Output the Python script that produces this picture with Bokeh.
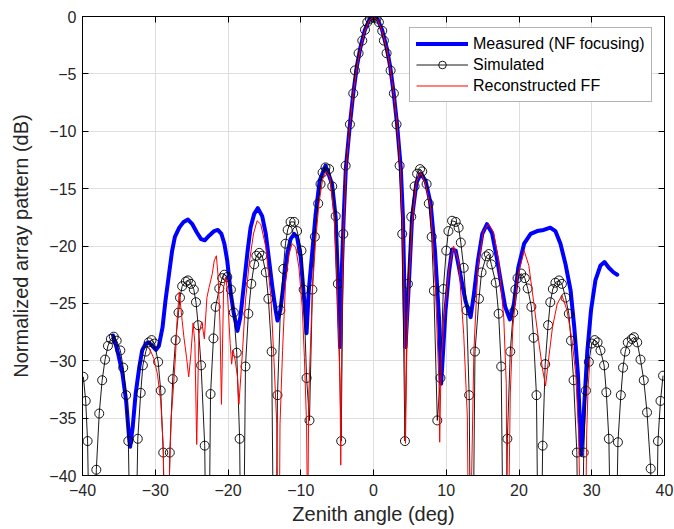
from bokeh.plotting import figure
from bokeh.models import Range1d, LinearAxis, Legend, LegendItem, FixedTicker, CustomJSTickFormatter
from bokeh.embed import file_html
from bokeh.resources import INLINE

# ---------------- data ----------------
x_ticks = [-40, -30, -20, -10, 0, 10, 20, 30, 40]
y_ticks = [-40, -35, -30, -25, -20, -15, -10, -5, 0]

# Simulated pattern (samples; samples at nulls fall far below the axis)
sim_x = [-39.88, -39.56, -39.3, -38.7, -38.1, -37.7, -37.3, -36.9, -36.5, -36.1, -35.7, -35.3, -34.8, -34.4,
         -34.0, -33.7, -33.05, -32.4, -32.0, -31.7, -31.3, -30.9, -30.5, -30.1, -29.6, -29.25, -28.9, -28.45,
         -28.0, -27.6, -27.2, -26.8, -26.6, -26.3, -25.8, -25.5, -25.1, -24.7, -24.4, -24.1, -23.7, -23.2,
         -22.8, -22.4, -22.0, -21.7, -21.2, -20.8, -20.5, -20.1, -19.6, -19.2, -18.8, -18.4, -18.05, -17.6,
         -17.2, -16.8, -16.4, -16.1, -15.7, -15.3, -14.8, -14.45, -14.0, -13.55, -13.2, -12.8, -12.4, -12.1,
         -11.8, -11.4, -10.9, -10.5, -9.9, -9.6, -9.2, -8.8, -8.4, -8.06, -7.6, -7.28, -7.0, -6.6, -6.1,
         -5.67, -5.2, -4.9, -4.44, -4.15, -3.83, -3.24, -2.78, -2.55, -2.05, -1.54, -1.17, -0.85, -0.49, -0.03,
         0.42, 0.74, 1.2, 1.43, 1.8, 2.35, 2.8, 3.17, 3.59, 3.95, 4.32, 4.73, 5.19, 5.65, 6.0, 6.4, 6.7, 7.3,
         7.6, 8.0, 8.3, 8.77, 9.2, 9.6, 10.0, 10.3, 10.8, 11.3, 11.7, 12.0, 12.4, 12.8, 13.15, 13.5, 13.95,
         14.5, 14.85, 15.5, 15.85, 16.2, 16.8, 17.2, 17.55, 18.05, 18.4, 18.8, 19.2, 19.5, 19.8, 20.3, 20.8,
         21.2, 21.7, 22.0, 22.4, 22.85, 23.25, 23.6, 24.0, 24.3, 24.65, 25.0, 25.5, 25.9, 26.4, 26.85, 27.15,
         27.5, 27.95, 28.4, 28.9, 29.2, 29.6, 30.0, 30.4, 30.8, 31.2, 31.7, 32.0, 32.35, 33.0, 33.6, 34.0, 34.3,
         34.6, 34.95, 35.5, 35.8, 36.25, 36.7, 37.15, 37.6, 38.1, 38.6, 39.1, 39.45, 39.8]
sim_y = [-31.4, -33.5, -37.0, -60, -39.5, -34.6, -31.7, -29.9, -28.7, -28.1, -27.9, -28.25, -29.1, -30.6,
         -33.0, -37.0, -60, -36.8, -32.8, -30.4, -29.2, -28.4, -28.2, -28.5, -30.1, -32.6, -38.0, -60,
         -38.0, -31.6, -28.2, -25.8, -24.5, -23.5, -23.1, -23.0, -23.3, -23.8, -24.9, -26.9, -30.4, -37.4,
         -60, -32.9, -28.05, -25.3, -23.7, -22.8, -22.5, -22.7, -23.8, -25.8, -29.3, -36.8, -60, -30.5,
         -25.9, -23.3, -21.6, -20.85, -20.6, -20.85, -22.3, -24.6, -29.2, -60, -33.0, -25.6, -22.0, -19.8,
         -18.6, -17.9, -17.9, -18.7, -20.4, -23.8, -31.5, -35.2, -23.8, -19.2, -16.3, -14.6, -13.6, -13.15, -13.3,
         -14.8, -17.4, -23.3, -37.0, -18.95, -13.0, -9.4, -6.7, -4.7, -3.2, -2.1, -1.16, -0.5, -0.2, -0.08,
         -0.17, -0.5, -1.25, -2.1, -3.2, -4.7, -6.7, -9.4, -13.0, -18.95, -37.0, -23.3, -17.45, -14.8, -13.7, -13.3, -13.5, -14.6,
         -16.3, -19.2, -23.9, -35.2, -31.5, -23.75, -20.4, -18.7, -17.8, -17.9, -18.4, -19.7, -21.9, -25.6, -33.0, -60, -29.2,
         -24.6, -22.3, -20.9, -20.7, -21.6, -23.2, -25.9, -30.5, -60, -36.8, -29.2, -25.8, -23.8, -22.8, -22.4, -22.8,
         -23.7, -25.3, -28.0, -33.0, -60, -37.4, -30.3, -26.9, -24.9, -23.75, -23.2, -23.0, -23.3, -24.5, -25.9, -28.25,
         -31.7, -38.0, -60, -38.0, -32.6, -30.1, -28.5, -28.2, -28.4, -29.1, -30.4, -32.75, -36.8, -60, -37.1, -33.0, -30.6,
         -29.2, -28.4, -28.1, -27.95, -28.4, -29.9, -31.7, -34.5, -39.4, -60, -37.0, -33.5, -31.3]

# Measured (NF focusing)
meas_x = [-35.8, -35.2, -34.5, -34.0, -33.6, -33.45, -33.1, -32.7, -32.2, -31.8, -31.3, -30.9, -30.4, -29.9,
          -29.5, -29.0, -28.6, -28.1, -27.7, -27.3, -26.7, -26.1, -25.5, -24.9, -24.3, -23.7, -23.2, -22.6,
          -21.9, -21.4, -20.9, -20.5, -20.1, -19.6, -19.2, -18.7, -18.3, -17.8, -17.3, -16.9, -16.4, -15.9,
          -15.3, -14.8, -14.4, -13.9, -13.45, -13.2, -12.8, -12.3, -11.85, -11.4, -10.9, -10.5, -10.0, -9.55,
          -9.2, -8.9, -8.4, -7.95, -7.4, -6.6, -5.7, -5.2, -4.9, -4.6, -4.35, -4.1, -3.8, -3.24, -2.78, -2.3,
          -1.8, -1.2, -0.6, 0.0, 0.6, 1.2, 1.8, 2.3, 2.78, 3.24, 3.75, 4.05, 4.4, 4.86, 5.3, 5.9, 6.5, 7.15,
          7.85, 8.45, 9.0, 9.3, 9.9, 10.4, 10.8, 11.3, 12.0, 12.65, 13.35, 13.8, 14.35, 14.95, 15.6, 16.3,
          17.0, 17.5, 18.1, 18.75, 19.3, 19.9, 20.7, 21.6, 22.5, 23.4, 24.3, 25.0, 25.7, 26.4, 27.1, 27.6,
          28.1, 28.4, 28.55, 28.9, 29.4, 29.9, 30.5, 31.2, 31.75, 32.35, 33.0, 33.5]
meas_y = [-27.8, -29.1, -31.15, -33.5, -36.7, -37.5, -35.8, -32.9, -30.6, -29.1, -28.5, -28.4, -28.7, -29.05,
          -28.7, -27.1, -24.8, -22.4, -20.5, -19.2, -18.4, -17.9, -17.7, -18.1, -18.8, -19.4, -19.5, -19.1,
          -18.7, -18.6, -18.95, -19.8, -21.3, -24.2, -25.9, -27.4, -26.2, -23.3, -20.4, -18.4, -17.2, -16.7,
          -17.4, -18.95, -21.0, -23.6, -25.6, -26.5, -25.6, -23.0, -20.7, -19.4, -18.95, -19.25, -21.0, -24.5,
          -27.6, -23.9, -20.4, -17.2, -14.3, -13.0, -14.6, -17.5, -22.7, -28.8, -22.0, -17.5, -13.2, -9.4, -6.7, -4.4,
          -2.7, -1.2, -0.3, 0.0, -0.3, -1.2, -2.7, -4.4, -6.7, -9.4, -13.2, -17.5, -28.8, -23.3, -17.5, -14.5, -13.7, -14.3,
          -16.3, -20.4, -26.2, -32.0, -25.6, -22.15, -20.3, -20.4, -22.7, -24.8, -26.2, -24.2, -21.3, -18.95, -18.1, -18.9,
          -21.2, -23.1, -25.3, -26.4, -25.05, -21.9, -19.8, -18.95, -18.7, -18.6, -18.4, -18.7, -19.8, -21.6, -23.9, -27.1,
          -31.15, -35.8, -38.2, -34.6, -29.1, -25.6, -23.0, -21.7, -21.4, -21.9, -22.3, -22.5]

# Reconstructed FF
rec_x = [-30.8, -30.2, -29.7, -29.25, -28.9, -28.7, -28.3, -27.8, -27.5, -27.2, -27.0, -26.7, -26.3, -26.05,
         -25.7, -25.4, -25.1, -24.8, -24.55, -24.3, -24.0, -23.6, -23.25, -22.9, -22.6, -22.15, -21.9, -21.6,
         -21.35, -21.1, -20.9, -20.6, -20.3, -20.1, -19.7, -19.5, -19.3, -19.0, -18.7, -18.5, -18.0, -17.6,
         -17.1, -16.5, -16.0, -15.5, -14.8, -14.1, -13.7, -13.3, -13.15, -12.95, -12.85, -12.5, -12.1, -11.6,
         -11.2, -10.7, -10.25, -9.8, -9.5, -9.2, -9.05, -8.9, -8.4, -7.95, -7.5, -7.0, -6.5, -6.0, -5.4, -5.0,
         -4.6, -4.5, -4.3, -4.1, -3.8, -3.24, -2.78, -2.3, -1.8, -1.2, -0.6, 0.0, 0.6, 1.2, 1.8, 2.3, 2.78,
         3.24, 3.7, 4.0, 4.2, 4.4, 4.6, 4.86, 5.3, 5.9, 6.47, 7.1, 7.85, 8.5, 9.0, 9.1, 9.3, 9.7, 10.4, 11.0,
         11.7, 12.4, 12.9, 13.05, 13.35, 13.8, 14.35, 15.1, 15.85, 16.5, 17.2, 17.9, 18.25, 18.35, 18.55, 18.8,
         19.15, 19.8, 20.7, 21.35, 22.0, 22.7, 23.2, 23.65, 24.1, 24.6, 25.25, 25.9, 26.6, 27.3, 27.8, 28.2,
         28.45, 29.15, 29.3, 29.5, 29.75]
rec_y = [-28.9, -29.8, -31.15, -33.5, -37.5, -45, -45, -34.9, -32.3, -29.4, -26.5, -24.0, -26.5, -28.0,
         -29.7, -31.4, -29.4, -26.7, -28.5, -37.3, -27.7, -26.6, -28.1, -24.5, -23.6, -22.4, -21.3, -20.85,
         -22.7, -26.8, -33.8, -23.6, -22.7, -23.9, -28.5, -30.3, -29.1, -30.0, -31.4, -33.8, -29.1, -24.8,
         -21.6, -18.95, -17.8, -18.1, -20.1, -24.5, -29.7, -35.5, -45, -45, -35.5, -29.1, -23.3, -20.7,
         -19.8, -20.1, -21.9, -25.3, -29.7, -35.5, -45, -33.0, -23.9, -19.5, -16.3, -14.2, -13.5, -14.0, -17.5, -23.3,
         -32.0, -39.1, -24.0, -18.5, -13.3, -9.4, -6.7, -4.5, -2.8, -1.3, -0.35, -0.05, -0.35, -1.3, -2.8, -4.5, -6.7,
         -9.4, -13.3, -18.5, -24.0, -37.2, -28.0, -23.3, -18.0, -14.4, -13.6, -14.5, -16.6, -23.3, -32.0, -37.1, -30.0, -26.2, -21.9, -20.0,
         -21.3, -27.7, -34.9, -45, -45, -29.1, -21.9, -18.7, -18.1, -18.8, -21.3, -26.2, -32.0, -45, -45, -32.9,
         -27.1, -22.7, -20.4, -21.7, -24.8, -28.25, -30.6, -32.2, -29.7, -27.1, -25.05, -24.3, -25.6, -28.25, -31.15, -36.4,
         -45, -45, -36.4, -32.3, -29.9]

# ---------------- figure ----------------
FONT = "Liberation Sans"
TXT = "#262626"

p = figure(width=674, height=529, x_range=Range1d(-40, 40), y_range=Range1d(-40, 0),
           output_backend="svg", toolbar_location=None,
           min_border_left=82, min_border_right=10, min_border_top=16, min_border_bottom=54,
           background_fill_color="white", border_fill_color="white")
p.outline_line_color = "black"
p.outline_line_width = 1

fmt = CustomJSTickFormatter(code="return (tick < 0 ? '\u2212' : '') + Math.abs(tick).toFixed(0);")

for ax in (p.xaxis[0], p.yaxis[0]):
    ax.major_tick_in = 6
    ax.major_tick_out = 0
    ax.minor_tick_line_color = None
    ax.axis_line_color = "black"
    ax.major_tick_line_color = "black"
    ax.major_label_text_font = FONT
    ax.major_label_text_font_size = "16px"
    ax.major_label_text_color = TXT
    ax.axis_label_text_font = FONT
    ax.axis_label_text_font_size = "20px"
    ax.axis_label_text_font_style = "normal"
    ax.axis_label_text_color = TXT
    ax.formatter = fmt

p.xaxis[0].ticker = FixedTicker(ticks=x_ticks)
p.yaxis[0].ticker = FixedTicker(ticks=y_ticks)
p.xaxis[0].axis_label = "Zenith angle (deg)"
p.yaxis[0].axis_label = "Normalized array pattern (dB)"
p.xaxis[0].major_label_standoff = 8
p.xaxis[0].axis_label_standoff = 4
p.yaxis[0].major_label_standoff = 6
p.yaxis[0].axis_label_standoff = 14

top = LinearAxis(ticker=FixedTicker(ticks=x_ticks), major_tick_in=6, major_tick_out=0,
                 minor_tick_line_color=None, major_label_text_color=None,
                 major_label_text_font_size="1px", major_label_standoff=0, axis_line_color="black")
right = LinearAxis(ticker=FixedTicker(ticks=y_ticks), major_tick_in=6, major_tick_out=0,
                   minor_tick_line_color=None, major_label_text_color=None,
                   major_label_text_font_size="1px", major_label_standoff=0, axis_line_color="black")
p.add_layout(top, "above")
p.add_layout(right, "right")

p.xgrid.ticker = FixedTicker(ticks=x_ticks)
p.ygrid.ticker = FixedTicker(ticks=y_ticks)
for g in (p.xgrid[0], p.ygrid[0]):
    g.grid_line_color = "#dedede"
    g.grid_line_width = 1

r_meas = p.line(meas_x, meas_y, line_color="#0000ff", line_width=4, line_join="round", line_cap="round")
r_sim = p.line(sim_x, sim_y, line_color="black", line_width=0.9)
r_sim_pts = p.scatter(sim_x, sim_y, marker="circle", size=9, fill_color=None, line_color="black", line_width=0.9)
r_rec = p.line(rec_x, rec_y, line_color="#ff0000", line_width=1)

legend = Legend(items=[
    LegendItem(label="Measured (NF focusing)", renderers=[r_meas]),
    LegendItem(label="Simulated", renderers=[r_sim, r_sim_pts]),
    LegendItem(label="Reconstructed FF", renderers=[r_rec]),
], location=(327, 373))
legend.glyph_width = 52
legend.glyph_height = 19
legend.label_height = 19
legend.label_standoff = 5
legend.padding = 6
legend.spacing = 2
legend.margin = 0
legend.border_line_color = "#666666"
legend.border_line_width = 1
legend.background_fill_color = "white"
legend.background_fill_alpha = 1
legend.label_text_font = FONT
legend.label_text_font_size = "16px"
legend.label_text_color = "black"
p.add_layout(legend)

open("out.html", "w").write(file_html(p, INLINE))
